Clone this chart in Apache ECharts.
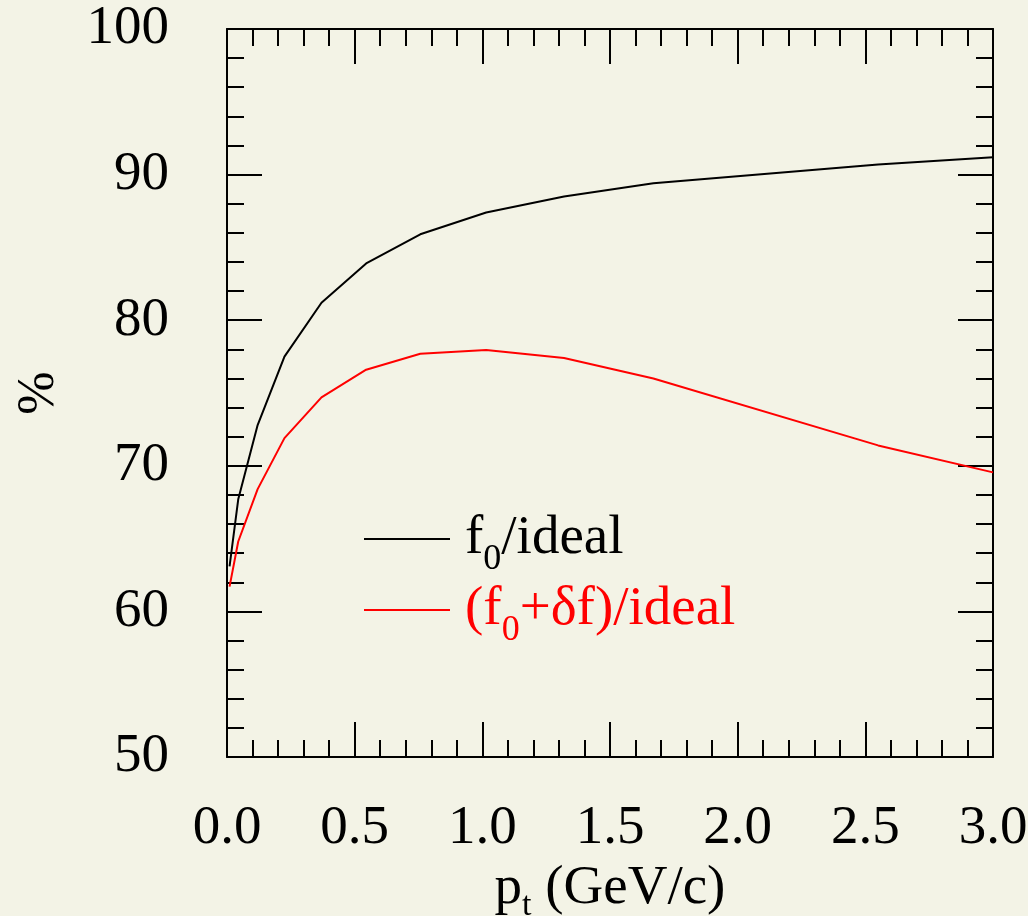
<!DOCTYPE html>
<html>
<head>
<meta charset="utf-8">
<script src="https://cdn.jsdelivr.net/npm/echarts@6/dist/echarts.min.js"></script>
<style>
  html, body { margin: 0; padding: 0; background: #f3f3e6; }
  #chart { width: 1028px; height: 916px; }
</style>
</head>
<body>
<div id="chart"></div>
<script>
// pt values (GeV/c) and efficiencies (%)
var ptValues = [0.01, 0.044, 0.12, 0.225, 0.37, 0.545, 0.757, 1.015, 1.32, 1.67, 2.55, 3.0];
var f0Ideal = [63.1, 67.7, 72.8, 77.5, 81.2, 83.9, 85.9, 87.4, 88.5, 89.4, 90.7, 91.2];
var f0dfIdeal = [61.7, 64.8, 68.4, 71.9, 74.7, 76.6, 77.7, 77.95, 77.4, 76.0, 71.4, 69.55];
var xTicks = ['0.0', '0.5', '1.0', '1.5', '2.0', '2.5', '3.0'];

var font = 'Liberation Serif';

function pairs(xs, ys) {
    var out = [];
    for (var i = 0; i < xs.length; i++) out.push([xs[i], ys[i]]);
    return out;
}

var chart = echarts.init(document.getElementById('chart'));

var tickStyle = { color: '#000', width: 2 };

function frameAxis(pos, isX, labels) {
    var ax = {
        type: 'value',
        position: pos,
        min: isX ? 0 : 50,
        max: isX ? 3 : 100,
        interval: isX ? 0.5 : 10,
        axisLine: { show: true, onZero: false, lineStyle: { color: '#000', width: 2 } },
        axisTick: { show: true, inside: true, length: 35, lineStyle: tickStyle },
        minorTick: { show: true, splitNumber: 5, length: 17, lineStyle: tickStyle },
        splitLine: { show: false },
        axisLabel: { show: false }
    };
    if (labels) {
        ax.axisLabel = {
            show: true,
            fontFamily: font,
            fontSize: 55,
            color: '#000',
            margin: isX ? 44 : 58,
            showMaxLabel: true,
            showMinLabel: true,
            formatter: isX ? function (v) { return xTicks[Math.round(v / 0.5)]; } : '{value}'
        };
    }
    return ax;
}

var xBottom = frameAxis('bottom', true, true);
xBottom.name = 'p{sub|t} (GeV/c)';
xBottom.nameLocation = 'middle';
xBottom.nameGap = 92;
xBottom.nameTextStyle = {
    fontFamily: font, fontSize: 55, color: '#000',
    rich: { sub: { fontFamily: font, fontSize: 34, padding: [36, 0, 0, 0] } }
};
var xTop = frameAxis('top', true, false);

var yLeft = frameAxis('left', false, true);
yLeft.name = '%';
yLeft.nameLocation = 'middle';
yLeft.nameGap = 162;
yLeft.nameTextStyle = { fontFamily: font, fontSize: 52, color: '#000' };
var yRight = frameAxis('right', false, false);

var legendRich = {
    n: { fontFamily: font, fontSize: 55, lineHeight: 62 },
    sub: { fontFamily: font, fontSize: 36, lineHeight: 62, padding: [42, 0, 0, 0] }
};

var option = {
    backgroundColor: '#f3f3e6',
    animation: false,
    grid: { left: 227, right: 35, top: 29, bottom: 159, containLabel: false, outerBoundsMode: 'none' },
    xAxis: [xBottom, xTop],
    yAxis: [yLeft, yRight],
    legend: {
        orient: 'vertical',
        left: 359,
        top: 495,
        itemWidth: 86,
        itemHeight: 2,
        itemGap: -7,
        icon: 'rect',
        textStyle: { fontFamily: font, fontSize: 55, padding: [0, 0, 0, 10], rich: legendRich },
        data: [
            { name: 'f0/ideal', textStyle: { color: '#000' } },
            { name: '(f0+δf)/ideal', textStyle: { color: '#ff0000' } }
        ],
        formatter: function (name) {
            if (name === 'f0/ideal') return '{n|f}{sub|0}{n|/ideal}';
            return '{n|(f}{sub|0}{n|+δf)/ideal}';
        }
    },
    series: [
        {
            name: 'f0/ideal',
            type: 'line',
            xAxisIndex: 0,
            yAxisIndex: 0,
            symbol: 'none',
            lineStyle: { color: '#000', width: 2 },
            itemStyle: { color: '#000' },
            data: pairs(ptValues, f0Ideal)
        },
        {
            name: '(f0+δf)/ideal',
            type: 'line',
            xAxisIndex: 0,
            yAxisIndex: 0,
            symbol: 'none',
            lineStyle: { color: '#ff0000', width: 2 },
            itemStyle: { color: '#ff0000' },
            data: pairs(ptValues, f0dfIdeal)
        }
    ]
};

chart.setOption(option);
window.addEventListener('resize', function () {
    chart.resize();
});
</script>
</body>
</html>
